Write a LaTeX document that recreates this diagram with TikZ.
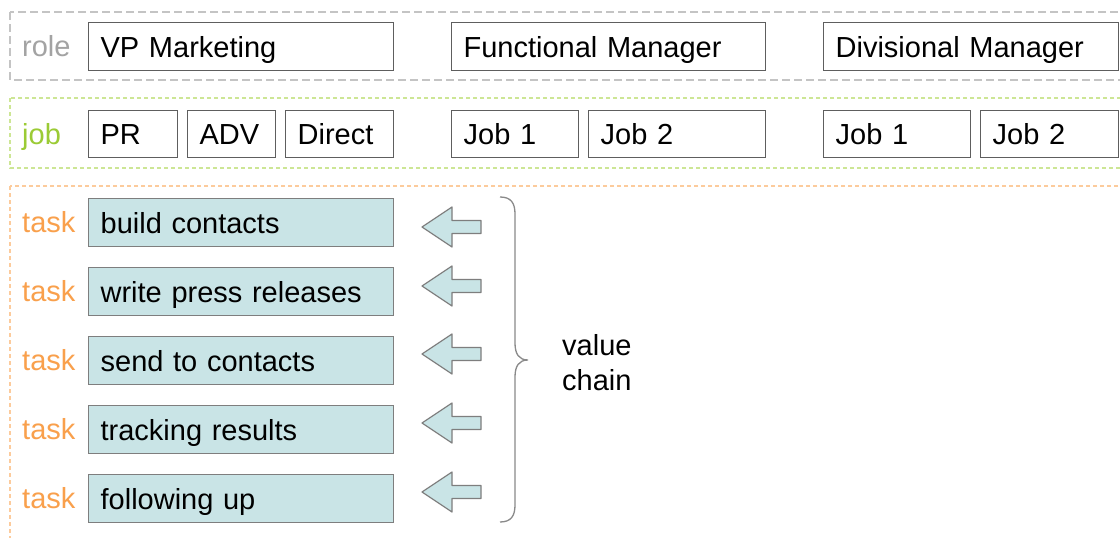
\documentclass[tikz,border=0pt]{standalone}
\usepackage{fontspec}
\setmainfont{Liberation Sans}
\definecolor{roleline}{HTML}{C4C4C4}
\definecolor{rolelabel}{HTML}{A3A3A3}
\definecolor{jobline}{HTML}{CDE695}
\definecolor{joblabel}{HTML}{9BCB35}
\definecolor{taskline}{HTML}{FCCB9C}
\definecolor{tasklabel}{HTML}{F9A04C}
\definecolor{taskfill}{HTML}{C9E4E6}
\definecolor{boxline}{HTML}{5E5E5E}
\definecolor{taskedge}{HTML}{7E7E7E}
\definecolor{braceline}{HTML}{8A8A8A}
\begin{document}
\begin{tikzpicture}[x=1pt,y=-1pt,
  every node/.style={font=\fontsize{29pt}{35pt}\selectfont},
  wbox/.style={draw=boxline, line width=1.3pt, fill=white, anchor=north west,
    minimum height=48pt, inner xsep=12pt, inner ysep=0pt,
    text height=21pt, text depth=0pt, align=left, text width=#1},
  jbox/.style={wbox=#1, minimum height=47pt},
  tbox/.style={wbox=281pt, draw=taskedge, fill=taskfill},
  lbl/.style={anchor=west, inner sep=0pt, text height=21pt, text depth=0pt},
  band/.style={line width=1.3pt},
  blockarrow/.style={draw=taskedge, line width=1.2pt, fill=taskfill, line join=round}]
\clip (0,0) rectangle (1120,538);
\fill[white] (0,0) rectangle (1120,538);

% three dashed bands running off the right edge
\draw[band, roleline, dash pattern=on 8pt off 4pt] (10,12) rectangle (1150,80);
\draw[band, jobline, dash pattern=on 4pt off 3pt] (10,98) rectangle (1150,168);
\draw[band, taskline, dash pattern=on 4pt off 3pt] (10,186) rectangle (1150,580);

% row labels
\node[lbl, rolelabel] (lrole) at (22,46) {role};
\node[lbl, joblabel] (ljob) at (22,134) {job};
\foreach \i/\y in {1/222,2/291,3/360,4/429,5/498}
  \node[lbl, tasklabel] (ltask\i) at (22,\y) {task};

% roles
\node[wbox=281pt] (vp) at (88,22) {VP Marketing};
\node[wbox=290pt] (fm) at (451,22) {Functional Manager};
\node[wbox=271pt] (dm) at (823,22) {Divisional Manager};

% jobs
\node[jbox=65pt] (pr) at (88,110) {PR};
\node[jbox=64pt] (adv) at (187,110) {ADV};
\node[jbox=84pt] (direct) at (285,110) {Direct};
\node[jbox=103pt] (fmjob1) at (451,110) {Job 1};
\node[jbox=153pt] (fmjob2) at (588,110) {Job 2};
\node[jbox=123pt] (dmjob1) at (823,110) {Job 1};
\node[jbox=114pt] (dmjob2) at (980,110) {Job 2};

% tasks
\node[tbox] (t1) at (88,198) {build contacts};
\node[tbox] (t2) at (88,267) {write press releases};
\node[tbox] (t3) at (88,336) {send to contacts};
\node[tbox] (t4) at (88,405) {tracking results};
\node[tbox] (t5) at (88,474) {following up};

% block arrows pointing at the tasks
\foreach \y in {227,286,354,423,492}
  \draw[blockarrow] (422,\y) -- (452,\y-20) -- (452,\y-6.5) -- (481,\y-6.5)
    -- (481,\y+6.5) -- (452,\y+6.5) -- (452,\y+20) -- cycle;

% brace grouping the tasks
\draw[braceline, line width=1.3pt] (500,197) .. controls (511,197) and (515,203) .. (515,214)
  -- (515,343) .. controls (515,354) and (519,360) .. (528,360)
  .. controls (519,360) and (515,366) .. (515,377)
  -- (515,505) .. controls (515,516) and (511,522) .. (500,522);

\node[anchor=base west, inner sep=0pt, text width=100pt, align=left] (vc) at (562,355) {value\\chain};
\end{tikzpicture}
\end{document}
